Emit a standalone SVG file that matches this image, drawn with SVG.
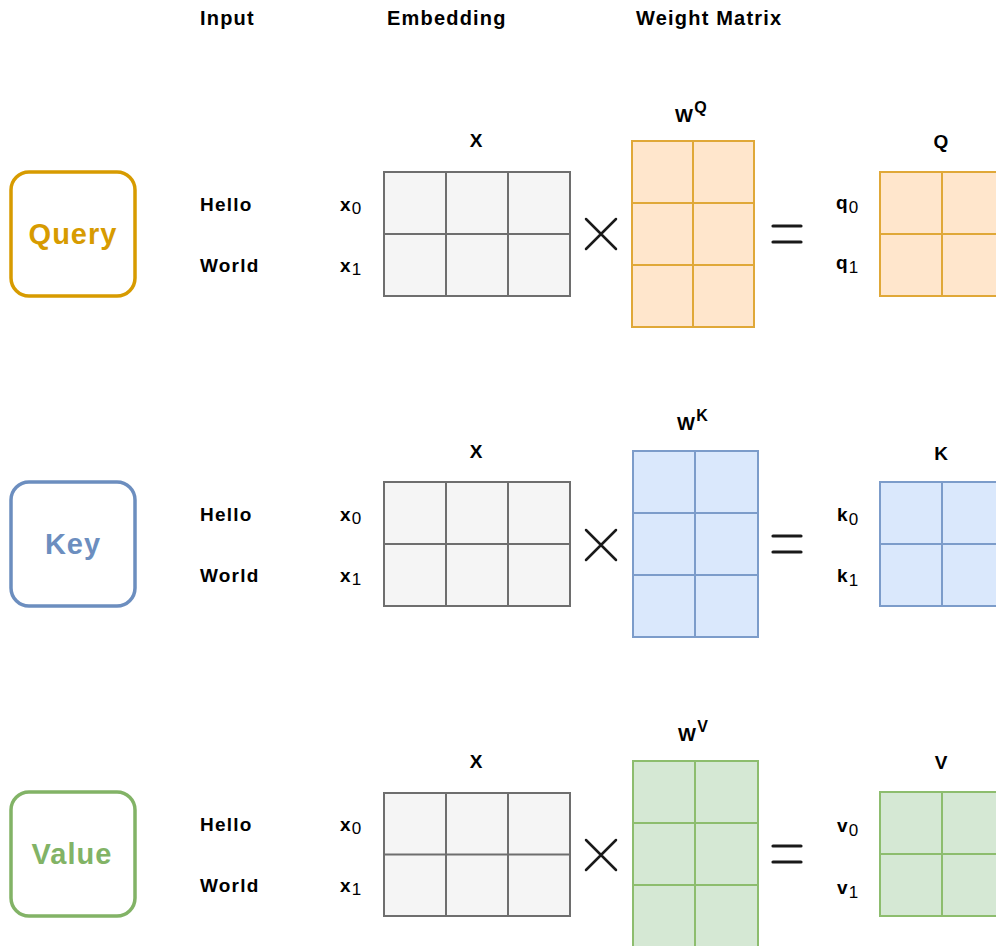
<svg xmlns="http://www.w3.org/2000/svg" width="996" height="946" viewBox="0 0 996 946">
<style>
  text { font-family: "Liberation Sans", Arial, sans-serif; fill: #000; }
  .hdr { font-size: 20px; font-weight: bold; letter-spacing: 1.2px; }
  .lbl { font-size: 19px; font-weight: bold; letter-spacing: 1.2px; }
  .sub { font-size: 17px; font-weight: normal; letter-spacing: 0; }
  .sup { font-size: 16px; font-weight: bold; letter-spacing: 0; }
  .mname { font-size: 19px; font-weight: bold; text-anchor: middle; }
  .big { font-size: 29px; font-weight: bold; text-anchor: middle; letter-spacing: 1px; }
  .role { fill: #fff; stroke-width: 3.5; }
  .cell { stroke-width: 2; }
  .gray { fill: #f5f5f5; stroke: #6e6e6e; }
  .orange { fill: #ffe6cc; stroke: #e0a838; }
  .blue { fill: #dae8fc; stroke: #7c9cca; }
  .green { fill: #d5e8d4; stroke: #8dbd6e; }
  .op { stroke: #1a1a1a; fill: none; stroke-linecap: round; }
</style>

<g id="headers">
  <text class="hdr" x="200" y="25">Input</text>
  <text class="hdr" x="387" y="25">Embedding</text>
  <text class="hdr" x="636" y="25">Weight Matrix</text>
</g>

<!-- Row 1: Query -->
<g id="query">
  <rect class="role" x="11" y="172" width="124" height="124" rx="18" stroke="#d79b00"/>
  <text class="big" x="73" y="244" style="fill:#d79b00">Query</text>
</g>
<g id="query-input">
  <text class="lbl" x="200" y="211">Hello</text>
  <text class="lbl" x="200" y="272">World</text>
  <text class="lbl" x="340" y="211">x<tspan class="sub" dy="3">0</tspan></text>
  <text class="lbl" x="340" y="272">x<tspan class="sub" dy="3">1</tspan></text>
</g>
<g id="query-X">
  <text class="mname" x="476" y="147">X</text>
  <rect class="cell gray" x="384" y="172" width="186" height="124"/>
  <path class="cell gray" d="M446 172V296M508 172V296M384 234H570"/>
</g>
<g id="query-times">
  <path class="op" stroke-width="2.5" d="M586 219L616 249M616 219L586 249"/>
</g>
<g id="query-WQ">
  <text class="lbl" x="675" y="122">W<tspan class="sup" dy="-9">Q</tspan></text>
  <rect class="cell orange" x="632" y="141" width="122" height="186"/>
  <path class="cell orange" d="M693 141V327M632 203H754M632 265H754"/>
</g>
<g id="query-equals">
  <path class="op" stroke-width="3.2" d="M773 226H801M773 242H801"/>
</g>
<g id="query-Q">
  <text class="mname" x="941" y="148">Q</text>
  <text class="lbl" x="836" y="209">q<tspan class="sub" dy="4">0</tspan></text>
  <text class="lbl" x="836" y="269">q<tspan class="sub" dy="4">1</tspan></text>
  <rect class="cell orange" x="880" y="172" width="124" height="124"/>
  <path class="cell orange" d="M942 172V296M880 234H1004"/>
</g>

<!-- Row 2: Key -->
<g id="key">
  <rect class="role" x="11" y="482" width="124" height="124" rx="18" stroke="#6c8ebf"/>
  <text class="big" x="73" y="554" style="fill:#6c8ebf">Key</text>
</g>
<g id="key-input">
  <text class="lbl" x="200" y="521">Hello</text>
  <text class="lbl" x="200" y="582">World</text>
  <text class="lbl" x="340" y="521">x<tspan class="sub" dy="3">0</tspan></text>
  <text class="lbl" x="340" y="582">x<tspan class="sub" dy="3">1</tspan></text>
</g>
<g id="key-X">
  <text class="mname" x="476" y="458">X</text>
  <rect class="cell gray" x="384" y="482" width="186" height="124"/>
  <path class="cell gray" d="M446 482V606M508 482V606M384 544H570"/>
</g>
<g id="key-times">
  <path class="op" stroke-width="2.5" d="M586 530L616 560M616 530L586 560"/>
</g>
<g id="key-WK">
  <text class="lbl" x="677" y="430">W<tspan class="sup" dy="-9">K</tspan></text>
  <rect class="cell blue" x="633" y="451" width="125" height="186"/>
  <path class="cell blue" d="M695 451V637M633 513H758M633 575H758"/>
</g>
<g id="key-equals">
  <path class="op" stroke-width="3.2" d="M773 536H801M773 552H801"/>
</g>
<g id="key-K">
  <text class="mname" x="941" y="460">K</text>
  <text class="lbl" x="837" y="521">k<tspan class="sub" dy="4">0</tspan></text>
  <text class="lbl" x="837" y="582">k<tspan class="sub" dy="4">1</tspan></text>
  <rect class="cell blue" x="880" y="482" width="124" height="124"/>
  <path class="cell blue" d="M942 482V606M880 544H1004"/>
</g>

<!-- Row 3: Value -->
<g id="value">
  <rect class="role" x="11" y="792" width="124" height="124" rx="18" stroke="#82b366"/>
  <text class="big" x="72" y="864" style="fill:#82b366">Value</text>
</g>
<g id="value-input">
  <text class="lbl" x="200" y="831">Hello</text>
  <text class="lbl" x="200" y="892">World</text>
  <text class="lbl" x="340" y="831">x<tspan class="sub" dy="3">0</tspan></text>
  <text class="lbl" x="340" y="892">x<tspan class="sub" dy="3">1</tspan></text>
</g>
<g id="value-X">
  <text class="mname" x="476" y="768">X</text>
  <rect class="cell gray" x="384" y="793" width="186" height="123"/>
  <path class="cell gray" d="M446 793V916M508 793V916M384 854.5H570"/>
</g>
<g id="value-times">
  <path class="op" stroke-width="2.5" d="M586 840L616 870M616 840L586 870"/>
</g>
<g id="value-WV">
  <text class="lbl" x="678" y="741">W<tspan class="sup" dy="-9">V</tspan></text>
  <rect class="cell green" x="633" y="761" width="125" height="186"/>
  <path class="cell green" d="M695 761V947M633 823H758M633 885H758"/>
</g>
<g id="value-equals">
  <path class="op" stroke-width="3.2" d="M773 846H801M773 862H801"/>
</g>
<g id="value-V">
  <text class="mname" x="941" y="769">V</text>
  <text class="lbl" x="837" y="832">v<tspan class="sub" dy="4">0</tspan></text>
  <text class="lbl" x="837" y="894">v<tspan class="sub" dy="4">1</tspan></text>
  <rect class="cell green" x="880" y="792" width="124" height="124"/>
  <path class="cell green" d="M942 792V916M880 854H1004"/>
</g>

<g id="connectors"></g>
</svg>
